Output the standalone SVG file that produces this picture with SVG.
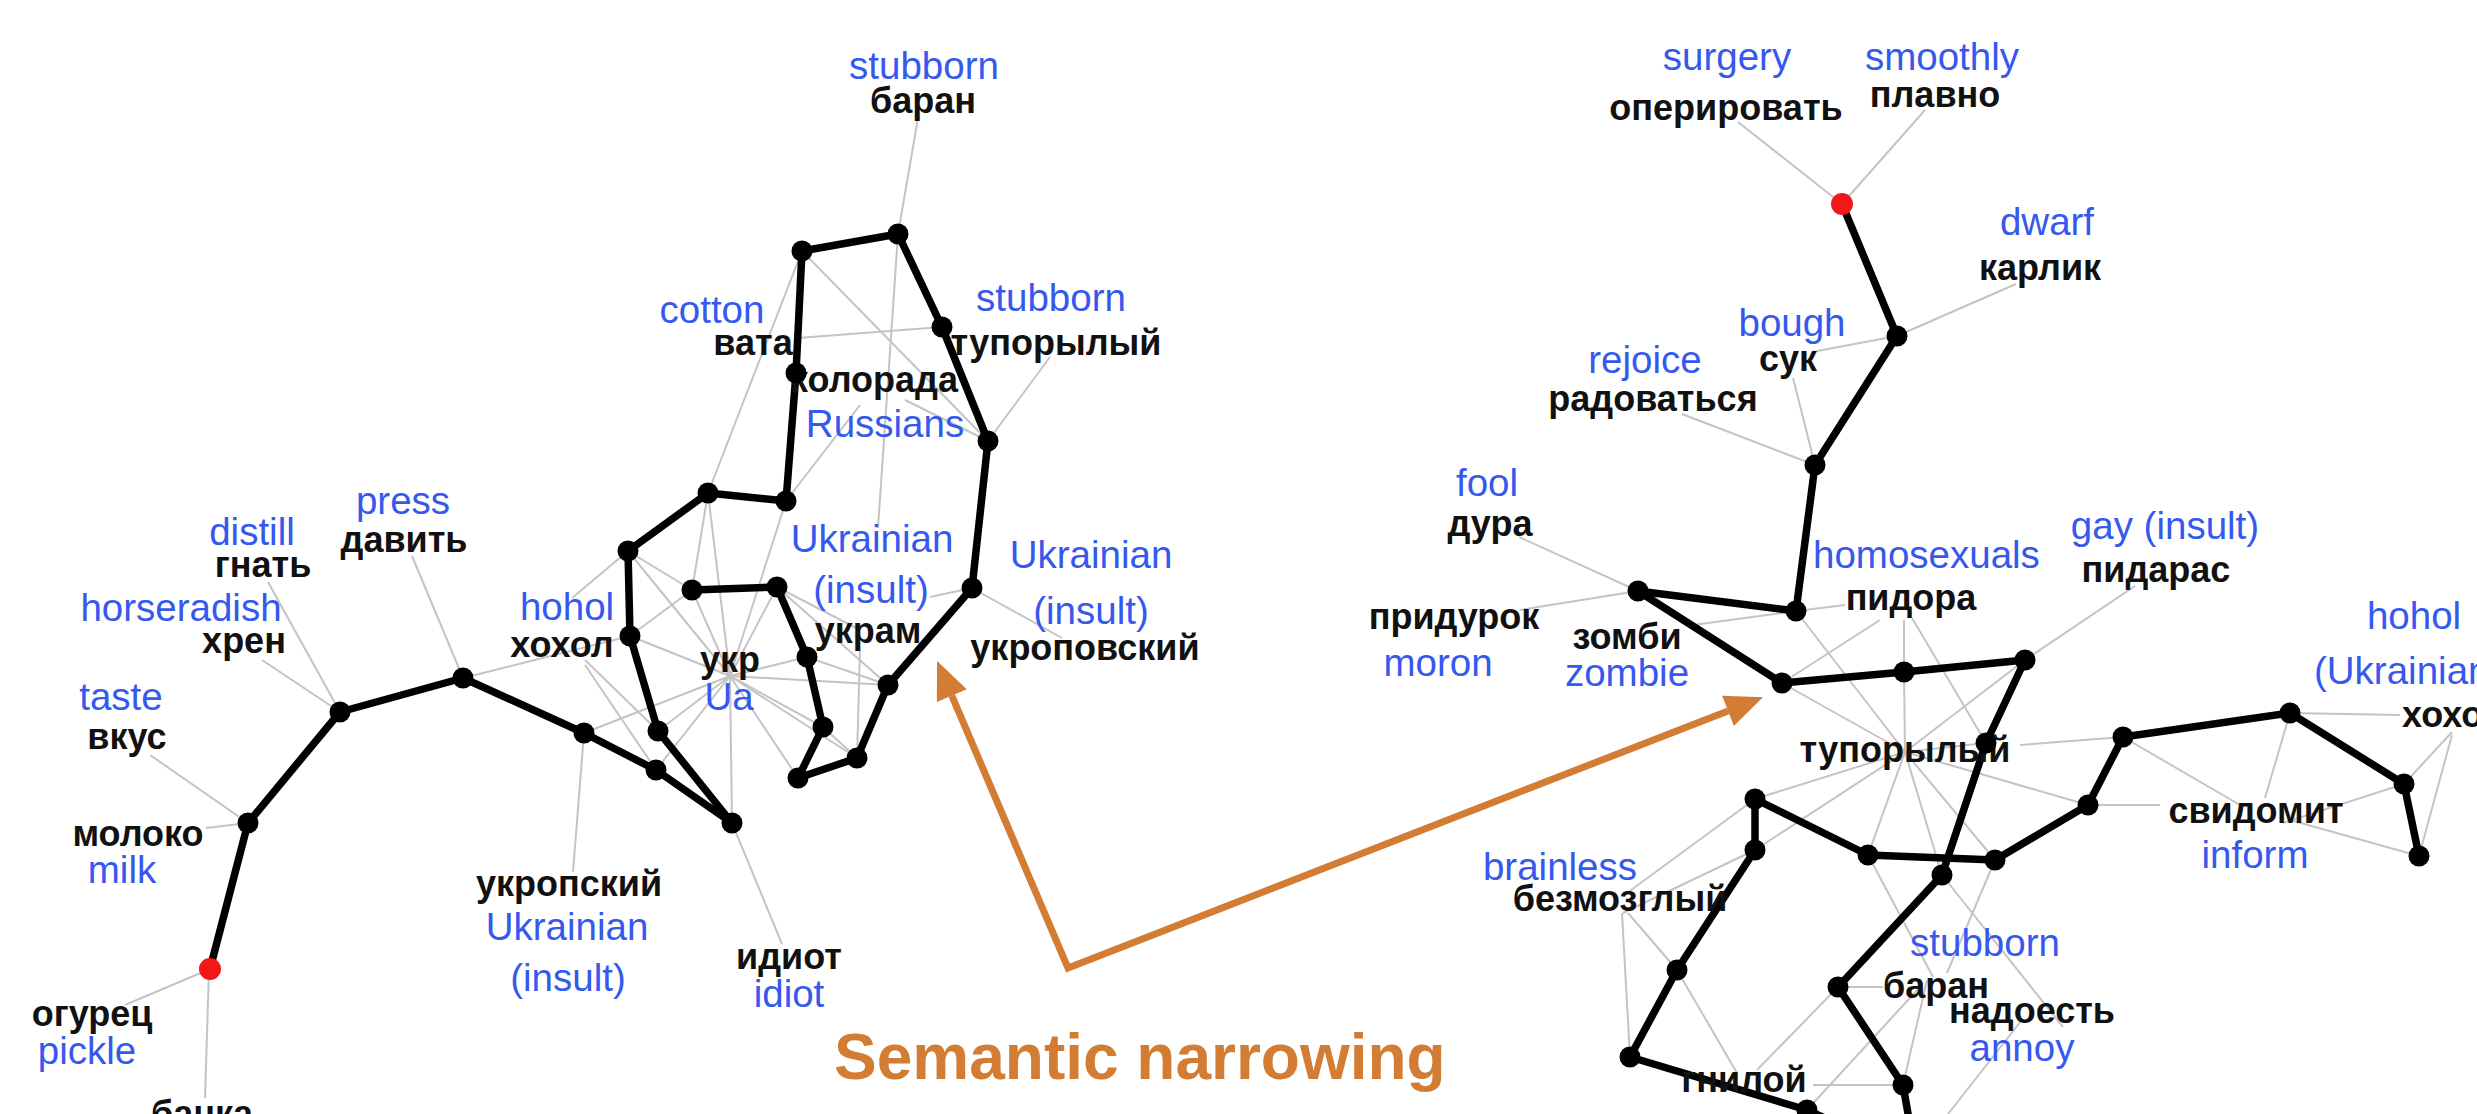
<svg xmlns="http://www.w3.org/2000/svg" width="2477" height="1114" viewBox="0 0 2477 1114">
  <style>
    .en { font-family: "Liberation Sans", Arial, sans-serif; font-size: 38.5px; fill: #3558ee; text-anchor: middle; }
    .ru { font-family: "Liberation Sans", Arial, sans-serif; font-size: 36px; font-weight: bold; fill: #111; text-anchor: middle; }
    .start { text-anchor: start; }
    .weak line { stroke: #c4c4c4; stroke-width: 2; }
    .strong line { stroke: #000; stroke-width: 7.5; stroke-linecap: round; }
    .node circle { fill: #000; }
    .node.seed circle { fill: #f21818; }
    .note { font-family: "Liberation Sans", Arial, sans-serif; font-size: 64px; font-weight: bold; fill: #d27c34; }
  </style>
  <defs>
    <marker id="head" markerUnits="userSpaceOnUse" markerWidth="40" markerHeight="40" refX="0" refY="0" viewBox="0 -16 32 32" orient="auto-start-reverse" overflow="visible">
      <path d="M0,-13 L30,0 L0,13 z" fill="#d27c34"/>
    </marker>
  </defs>

  <rect width="2477" height="1114" fill="#fff"/>

  <!-- connectors: weak (grey) links, then strong (black) path links -->
  <g id="connectors">
    <g class="weak">
      <!-- left graph: label leaders -->
      <line x1="210" y1="969" x2="125" y2="1005"/>
      <line x1="209" y1="969" x2="205" y2="1098"/>
      <line x1="248" y1="823" x2="150" y2="755"/>
      <line x1="248" y1="823" x2="206" y2="828"/>
      <line x1="340" y1="712" x2="262" y2="660"/>
      <line x1="340" y1="712" x2="268" y2="582"/>
      <line x1="463" y1="678" x2="412" y2="556"/>
      <line x1="463" y1="678" x2="630" y2="636"/>
      <line x1="584" y1="733" x2="573" y2="872"/>
      <line x1="732" y1="823" x2="782" y2="944"/>
      <line x1="628" y1="551" x2="572" y2="598"/>
      <line x1="585" y1="665" x2="656" y2="770"/>
      <line x1="585" y1="660" x2="658" y2="731"/>
      <line x1="628" y1="551" x2="692" y2="590"/>
      <line x1="630" y1="636" x2="692" y2="590"/>
      <line x1="708" y1="493" x2="692" y2="590"/>
      <!-- left graph: hub around укр -->
      <line x1="730" y1="676" x2="628" y2="551"/>
      <line x1="730" y1="676" x2="630" y2="636"/>
      <line x1="730" y1="676" x2="692" y2="590"/>
      <line x1="730" y1="676" x2="777" y2="587"/>
      <line x1="730" y1="676" x2="807" y2="657"/>
      <line x1="730" y1="676" x2="823" y2="727"/>
      <line x1="730" y1="676" x2="798" y2="778"/>
      <line x1="730" y1="676" x2="658" y2="731"/>
      <line x1="730" y1="676" x2="656" y2="770"/>
      <line x1="730" y1="676" x2="584" y2="733"/>
      <line x1="730" y1="676" x2="732" y2="823"/>
      <line x1="730" y1="676" x2="708" y2="493"/>
      <line x1="730" y1="676" x2="786" y2="501"/>
      <line x1="730" y1="676" x2="888" y2="685"/>
      <line x1="730" y1="676" x2="857" y2="758"/>
      <!-- left graph: upper loop -->
      <line x1="802" y1="251" x2="708" y2="493"/>
      <line x1="802" y1="251" x2="988" y2="441"/>
      <line x1="898" y1="234" x2="918" y2="118"/>
      <line x1="898" y1="234" x2="878" y2="528"/>
      <line x1="798" y1="338" x2="942" y2="327"/>
      <line x1="988" y1="441" x2="1050" y2="357"/>
      <line x1="988" y1="441" x2="905" y2="400"/>
      <line x1="786" y1="501" x2="860" y2="405"/>
      <line x1="972" y1="588" x2="1062" y2="638"/>
      <line x1="972" y1="588" x2="930" y2="597"/>
      <line x1="777" y1="587" x2="888" y2="685"/>
      <line x1="807" y1="657" x2="888" y2="685"/>
      <line x1="823" y1="727" x2="857" y2="758"/>
      <line x1="777" y1="587" x2="860" y2="630"/>
      <line x1="857" y1="758" x2="860" y2="650"/>

      <!-- right graph: label leaders -->
      <line x1="1842" y1="204" x2="1738" y2="122"/>
      <line x1="1842" y1="204" x2="1925" y2="110"/>
      <line x1="1897" y1="336" x2="2016" y2="284"/>
      <line x1="1897" y1="336" x2="1812" y2="352"/>
      <line x1="1815" y1="465" x2="1793" y2="378"/>
      <line x1="1815" y1="465" x2="1682" y2="414"/>
      <line x1="1638" y1="591" x2="1519" y2="537"/>
      <line x1="1638" y1="591" x2="1520" y2="610"/>
      <line x1="1796" y1="611" x2="1693" y2="625"/>
      <line x1="1796" y1="611" x2="1845" y2="605"/>
      <!-- right graph: hub around тупорылый -->
      <line x1="1905" y1="752" x2="1796" y2="611"/>
      <line x1="1905" y1="752" x2="1782" y2="683"/>
      <line x1="1905" y1="752" x2="1904" y2="672"/>
      <line x1="1905" y1="752" x2="2025" y2="660"/>
      <line x1="1905" y1="752" x2="1755" y2="799"/>
      <line x1="1905" y1="752" x2="1755" y2="850"/>
      <line x1="1905" y1="752" x2="1868" y2="855"/>
      <line x1="1905" y1="752" x2="1942" y2="875"/>
      <line x1="1905" y1="752" x2="1995" y2="860"/>
      <line x1="1905" y1="752" x2="2088" y2="805"/>
      <line x1="1905" y1="752" x2="1986" y2="743"/>
      <line x1="1904" y1="620" x2="1904" y2="672"/>
      <line x1="1912" y1="618" x2="1986" y2="743"/>
      <line x1="1782" y1="683" x2="1880" y2="620"/>
      <line x1="2025" y1="660" x2="2135" y2="586"/>
      <line x1="2020" y1="745" x2="2123" y2="737"/>
      <line x1="2088" y1="805" x2="2160" y2="805"/>
      <line x1="2123" y1="737" x2="2240" y2="805"/>
      <line x1="2290" y1="820" x2="2419" y2="856"/>
      <line x1="2283" y1="823" x2="2404" y2="784"/>
      <line x1="2265" y1="798" x2="2290" y2="713"/>
      <line x1="2290" y1="713" x2="2400" y2="715"/>
      <line x1="2452" y1="732" x2="2404" y2="784"/>
      <line x1="2452" y1="735" x2="2419" y2="856"/>
      <line x1="1755" y1="799" x2="1627" y2="893"/>
      <line x1="1755" y1="850" x2="1623" y2="913"/>
      <line x1="1622" y1="913" x2="1630" y2="1057"/>
      <line x1="1628" y1="913" x2="1677" y2="970"/>
      <line x1="1677" y1="970" x2="1737" y2="1073"/>
      <line x1="1868" y1="855" x2="1933" y2="977"/>
      <line x1="1838" y1="987" x2="1883" y2="987"/>
      <line x1="1838" y1="987" x2="1757" y2="1070"/>
      <line x1="1813" y1="1085" x2="1903" y2="1085"/>
      <line x1="1995" y1="860" x2="1947" y2="973"/>
      <line x1="1942" y1="875" x2="2063" y2="1027"/>
      <line x1="1920" y1="987" x2="1807" y2="1110"/>
      <line x1="1927" y1="980" x2="1903" y2="1085"/>
      <line x1="2021" y1="1021" x2="1948" y2="1114"/>
    </g>
    <g class="strong">
      <!-- left chain -->
      <line x1="210" y1="969" x2="248" y2="823"/>
      <line x1="248" y1="823" x2="340" y2="712"/>
      <line x1="340" y1="712" x2="463" y2="678"/>
      <line x1="463" y1="678" x2="584" y2="733"/>
      <line x1="584" y1="733" x2="656" y2="770"/>
      <line x1="656" y1="770" x2="732" y2="823"/>
      <line x1="732" y1="823" x2="658" y2="731"/>
      <line x1="658" y1="731" x2="630" y2="636"/>
      <line x1="630" y1="636" x2="628" y2="551"/>
      <line x1="628" y1="551" x2="708" y2="493"/>
      <line x1="708" y1="493" x2="786" y2="501"/>
      <line x1="786" y1="501" x2="796" y2="373"/>
      <line x1="796" y1="373" x2="802" y2="251"/>
      <line x1="802" y1="251" x2="898" y2="234"/>
      <line x1="898" y1="234" x2="942" y2="327"/>
      <line x1="942" y1="327" x2="988" y2="441"/>
      <line x1="988" y1="441" x2="972" y2="588"/>
      <line x1="972" y1="588" x2="888" y2="685"/>
      <line x1="888" y1="685" x2="857" y2="758"/>
      <line x1="857" y1="758" x2="798" y2="778"/>
      <line x1="798" y1="778" x2="823" y2="727"/>
      <line x1="823" y1="727" x2="807" y2="657"/>
      <line x1="807" y1="657" x2="777" y2="587"/>
      <line x1="777" y1="587" x2="692" y2="590"/>
      <!-- right chain -->
      <line x1="1842" y1="204" x2="1897" y2="336"/>
      <line x1="1897" y1="336" x2="1815" y2="465"/>
      <line x1="1815" y1="465" x2="1796" y2="611"/>
      <line x1="1796" y1="611" x2="1638" y2="591"/>
      <line x1="1638" y1="591" x2="1782" y2="683"/>
      <line x1="1782" y1="683" x2="1904" y2="672"/>
      <line x1="1904" y1="672" x2="2025" y2="660"/>
      <line x1="2025" y1="660" x2="1986" y2="743"/>
      <line x1="1986" y1="743" x2="1942" y2="875"/>
      <line x1="1755" y1="799" x2="1755" y2="850"/>
      <line x1="1755" y1="799" x2="1868" y2="855"/>
      <line x1="1868" y1="855" x2="1995" y2="860"/>
      <line x1="1995" y1="860" x2="2088" y2="805"/>
      <line x1="2088" y1="805" x2="2123" y2="737"/>
      <line x1="2123" y1="737" x2="2290" y2="713"/>
      <line x1="2290" y1="713" x2="2404" y2="784"/>
      <line x1="2404" y1="784" x2="2419" y2="856"/>
      <line x1="1755" y1="850" x2="1677" y2="970"/>
      <line x1="1677" y1="970" x2="1630" y2="1057"/>
      <line x1="1630" y1="1057" x2="1807" y2="1110"/>
      <line x1="1807" y1="1110" x2="1840" y2="1125"/>
      <line x1="1942" y1="875" x2="1838" y2="987"/>
      <line x1="1838" y1="987" x2="1903" y2="1085"/>
      <line x1="1903" y1="1085" x2="1910" y2="1125"/>
    </g>
  </g>

  <!-- word labels: English gloss in blue, Russian word in bold black -->
  <g id="labels-left">
    <g id="label-baran-top"><text class="en" x="924" y="79">stubborn</text><text class="ru" x="923" y="113">баран</text></g>
    <g id="label-vata"><text class="en" x="712" y="323">cotton</text><text class="ru" x="753" y="355">вата</text></g>
    <g id="label-tuporyly-left"><text class="en" x="1051" y="311">stubborn</text><text class="ru" x="1056" y="355">тупорылый</text></g>
    <g id="label-kolorada"><text class="ru" x="874" y="392">колорада</text><text class="en" x="885" y="437">Russians</text></g>
    <g id="label-ukram"><text class="en" x="872" y="552">Ukrainian</text><text class="en" x="871" y="603">(insult)</text><text class="ru" x="868" y="643">укрaм</text></g>
    <g id="label-ukropovsky"><text class="en" x="1091" y="568">Ukrainian</text><text class="en" x="1091" y="624">(insult)</text><text class="ru" x="1085" y="660">укроповский</text></g>
    <g id="label-davit"><text class="en" x="403" y="514">press</text><text class="ru" x="404" y="552">давить</text></g>
    <g id="label-gnat"><text class="en" x="252" y="545">distill</text><text class="ru" x="263" y="577">гнать</text></g>
    <g id="label-hren"><text class="en" x="181" y="621">horseradish</text><text class="ru" x="244" y="653">хрен</text></g>
    <g id="label-vkus"><text class="en" x="121" y="710">taste</text><text class="ru" x="127" y="749">вкус</text></g>
    <g id="label-moloko"><text class="ru" x="138" y="846">молоко</text><text class="en" x="122" y="883">milk</text></g>
    <g id="label-ogurec"><text class="ru" x="92" y="1026">огурец</text><text class="en" x="87" y="1064">pickle</text></g>
    <g id="label-banka"><text class="ru" x="202" y="1126">банка</text></g>
    <g id="label-hohol-left"><text class="en" x="567" y="620">hohol</text><text class="ru" x="562" y="657">хохол</text></g>
    <g id="label-ukr"><text class="ru" x="730" y="672">укр</text><text class="en" x="729" y="710">Ua</text></g>
    <g id="label-ukropsky"><text class="ru" x="569" y="896">укропский</text><text class="en" x="567" y="940">Ukrainian</text><text class="en" x="568" y="991">(insult)</text></g>
    <g id="label-idiot"><text class="ru" x="789" y="969">идиот</text><text class="en" x="789" y="1007">idiot</text></g>
  </g>
  <g id="labels-right">
    <g id="label-operirovat"><text class="en" x="1727" y="70">surgery</text><text class="ru" x="1726" y="120">оперировать</text></g>
    <g id="label-plavno"><text class="en" x="1942" y="70">smoothly</text><text class="ru" x="1935" y="107">плавно</text></g>
    <g id="label-karlik"><text class="en" x="2047" y="235">dwarf</text><text class="ru" x="2040" y="280">карлик</text></g>
    <g id="label-suk"><text class="en" x="1792" y="336">bough</text><text class="ru" x="1788" y="371">сук</text></g>
    <g id="label-radovatsya"><text class="en" x="1645" y="373">rejoice</text><text class="ru" x="1653" y="411">радоваться</text></g>
    <g id="label-dura"><text class="en" x="1487" y="496">fool</text><text class="ru" x="1490" y="536">дура</text></g>
    <g id="label-pidora"><text class="en start" x="1813" y="568">homosexuals</text><text class="ru" x="1911" y="610">пидора</text></g>
    <g id="label-pidaras"><text class="en" x="2165" y="539">gay (insult)</text><text class="ru" x="2156" y="582">пидарас</text></g>
    <g id="label-pridurok"><text class="ru" x="1454" y="629">придурок</text><text class="en" x="1438" y="676">moron</text></g>
    <g id="label-zombi"><text class="ru" x="1627" y="649">зомби</text><text class="en" x="1627" y="686">zombie</text></g>
    <g id="label-hohol-right"><text class="en" x="2414" y="629">hohol</text><text class="en start" x="2314" y="684">(Ukrainian)</text><text class="ru start" x="2402" y="727">хохол</text></g>
    <g id="label-tuporyly-right"><text class="ru" x="1905" y="762">тупорылый</text></g>
    <g id="label-svidomit"><text class="ru" x="2256" y="823">свидомит</text><text class="en" x="2255" y="868">inform</text></g>
    <g id="label-bezmozgly"><text class="en" x="1560" y="880">brainless</text><text class="ru" x="1620" y="911">безмозглый</text></g>
    <g id="label-baran-right"><text class="en" x="1985" y="956">stubborn</text><text class="ru" x="1936" y="998">баран</text></g>
    <g id="label-nadoest"><text class="ru" x="2032" y="1023">надоесть</text><text class="en" x="2022" y="1061">annoy</text></g>
    <g id="label-gniloy"><text class="ru" x="1744" y="1092">гнилой</text></g>
  </g>

  <!-- path nodes -->
  <g id="nodes-left">
    <g id="node-l00" class="node seed"><circle cx="210" cy="969" r="11"/></g>
    <g id="node-l01" class="node"><circle cx="248" cy="823" r="10.5"/></g>
    <g id="node-l02" class="node"><circle cx="340" cy="712" r="10.5"/></g>
    <g id="node-l03" class="node"><circle cx="463" cy="678" r="10.5"/></g>
    <g id="node-l04" class="node"><circle cx="584" cy="733" r="10.5"/></g>
    <g id="node-l05" class="node"><circle cx="656" cy="770" r="10.5"/></g>
    <g id="node-l06" class="node"><circle cx="732" cy="823" r="10.5"/></g>
    <g id="node-l07" class="node"><circle cx="658" cy="731" r="10.5"/></g>
    <g id="node-l08" class="node"><circle cx="630" cy="636" r="10.5"/></g>
    <g id="node-l09" class="node"><circle cx="628" cy="551" r="10.5"/></g>
    <g id="node-l10" class="node"><circle cx="708" cy="493" r="10.5"/></g>
    <g id="node-l11" class="node"><circle cx="786" cy="501" r="10.5"/></g>
    <g id="node-l12" class="node"><circle cx="796" cy="373" r="10.5"/></g>
    <g id="node-l13" class="node"><circle cx="802" cy="251" r="10.5"/></g>
    <g id="node-l14" class="node"><circle cx="898" cy="234" r="10.5"/></g>
    <g id="node-l15" class="node"><circle cx="942" cy="327" r="10.5"/></g>
    <g id="node-l16" class="node"><circle cx="988" cy="441" r="10.5"/></g>
    <g id="node-l17" class="node"><circle cx="972" cy="588" r="10.5"/></g>
    <g id="node-l18" class="node"><circle cx="888" cy="685" r="10.5"/></g>
    <g id="node-l19" class="node"><circle cx="857" cy="758" r="10.5"/></g>
    <g id="node-l20" class="node"><circle cx="798" cy="778" r="10.5"/></g>
    <g id="node-l21" class="node"><circle cx="823" cy="727" r="10.5"/></g>
    <g id="node-l22" class="node"><circle cx="807" cy="657" r="10.5"/></g>
    <g id="node-l23" class="node"><circle cx="777" cy="587" r="10.5"/></g>
    <g id="node-l24" class="node"><circle cx="692" cy="590" r="10.5"/></g>
  </g>
  <g id="nodes-right">
    <g id="node-r00" class="node seed"><circle cx="1842" cy="204" r="11"/></g>
    <g id="node-r01" class="node"><circle cx="1897" cy="336" r="10.5"/></g>
    <g id="node-r02" class="node"><circle cx="1815" cy="465" r="10.5"/></g>
    <g id="node-r03" class="node"><circle cx="1796" cy="611" r="10.5"/></g>
    <g id="node-r04" class="node"><circle cx="1638" cy="591" r="10.5"/></g>
    <g id="node-r05" class="node"><circle cx="1782" cy="683" r="10.5"/></g>
    <g id="node-r06" class="node"><circle cx="1904" cy="672" r="10.5"/></g>
    <g id="node-r07" class="node"><circle cx="2025" cy="660" r="10.5"/></g>
    <g id="node-r08" class="node"><circle cx="1986" cy="743" r="10.5"/></g>
    <g id="node-r09" class="node"><circle cx="1755" cy="799" r="10.5"/></g>
    <g id="node-r10" class="node"><circle cx="1755" cy="850" r="10.5"/></g>
    <g id="node-r11" class="node"><circle cx="1868" cy="855" r="10.5"/></g>
    <g id="node-r12" class="node"><circle cx="1995" cy="860" r="10.5"/></g>
    <g id="node-r13" class="node"><circle cx="1942" cy="875" r="10.5"/></g>
    <g id="node-r14" class="node"><circle cx="2088" cy="805" r="10.5"/></g>
    <g id="node-r15" class="node"><circle cx="2123" cy="737" r="10.5"/></g>
    <g id="node-r16" class="node"><circle cx="2290" cy="713" r="10.5"/></g>
    <g id="node-r17" class="node"><circle cx="2404" cy="784" r="10.5"/></g>
    <g id="node-r18" class="node"><circle cx="2419" cy="856" r="10.5"/></g>
    <g id="node-r19" class="node"><circle cx="1677" cy="970" r="10.5"/></g>
    <g id="node-r20" class="node"><circle cx="1630" cy="1057" r="10.5"/></g>
    <g id="node-r21" class="node"><circle cx="1807" cy="1110" r="10.5"/></g>
    <g id="node-r22" class="node"><circle cx="1838" cy="987" r="10.5"/></g>
    <g id="node-r23" class="node"><circle cx="1903" cy="1085" r="10.5"/></g>
  </g>

  <!-- annotation: two-headed elbow arrow and caption -->
  <g id="annotation">
    <path d="M951.8 695.6 L1068 968 L1728 710.9" fill="none" stroke="#d27c34" stroke-width="7" stroke-linejoin="miter" marker-start="url(#head)" marker-end="url(#head)"/>
    <text class="note" x="834" y="1079">Semantic narrowing</text>
  </g>
</svg>
